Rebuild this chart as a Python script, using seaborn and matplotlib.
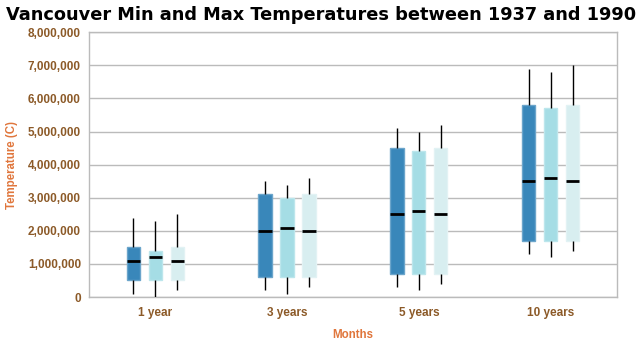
import numpy as np
import pandas as pd
import matplotlib
matplotlib.use("Agg")
import matplotlib.pyplot as plt
import matplotlib.colors as mcolors
from matplotlib.ticker import FuncFormatter
import seaborn as sns

categories = ["1 year", "3 years", "5 years", "10 years"]
series_names = ["Series 1", "Series 2", "Series 3"]
series_colors = ["#3987ba", "#a5dde5", "#d8eef0"]

# five-number summaries (whisker low, Q1, median, Q3, whisker high)
s1_low = [100000, 200000, 300000, 1300000]
s1_q1 = [500000, 600000, 700000, 1700000]
s1_med = [1100000, 2000000, 2500000, 3500000]
s1_q3 = [1500000, 3100000, 4500000, 5800000]
s1_high = [2400000, 3500000, 5100000, 6900000]

s2_low = [0, 100000, 200000, 1200000]
s2_q1 = [500000, 600000, 700000, 1700000]
s2_med = [1200000, 2100000, 2600000, 3600000]
s2_q3 = [1400000, 3000000, 4400000, 5700000]
s2_high = [2300000, 3400000, 5000000, 6800000]

s3_low = [200000, 300000, 400000, 1400000]
s3_q1 = [500000, 600000, 700000, 1700000]
s3_med = [1100000, 2000000, 2500000, 3500000]
s3_q3 = [1500000, 3100000, 4500000, 5800000]
s3_high = [2500000, 3600000, 5200000, 7000000]

y_ticks = [0, 1000000, 2000000, 3000000, 4000000, 5000000, 6000000, 7000000, 8000000]

summaries = {
    "Series 1": [s1_low, s1_q1, s1_med, s1_q3, s1_high],
    "Series 2": [s2_low, s2_q1, s2_med, s2_q3, s2_high],
    "Series 3": [s3_low, s3_q1, s3_med, s3_q3, s3_high],
}

rows = []
for name in series_names:
    stats = summaries[name]
    for ci, cat in enumerate(categories):
        for stat in stats:
            rows.append({"category": cat, "series": name, "value": stat[ci]})
df = pd.DataFrame(rows)

sns.set_theme(style="white")

tick_color = "#8c5a28"
label_color = "#e0763c"
grid_color = "#bbbbbb"

fig = plt.figure(figsize=(6.42, 3.47), dpi=100)
ax = fig.add_axes([0.139, 0.144, 0.8216, 0.763])

sns.boxplot(
    data=df, x="category", y="value", hue="series",
    order=categories, hue_order=series_names,
    palette=series_colors, saturation=1,
    whis=(0, 100), width=0.5, gap=0.4,
    showcaps=False, linecolor="black", linewidth=1,
    medianprops={"color": "black", "linewidth": 2},
    whiskerprops={"color": "black", "linewidth": 1},
    legend=False, ax=ax, zorder=3,
)

for p in ax.patches:
    fc = np.array(mcolors.to_rgba(p.get_facecolor()))
    edge = fc.copy()
    edge[:3] = fc[:3] * 0.75 + 0.25
    p.set_edgecolor(edge)
    p.set_linewidth(1)

ax.set_ylim(0, 8000000)
ax.set_yticks(y_ticks)
ax.yaxis.set_major_formatter(FuncFormatter(lambda v, pos: f"{int(v):,}"))
ax.set_xlim(-0.5, len(categories) - 0.5)
ax.grid(axis="y", color=grid_color, linewidth=1, zorder=0)
ax.set_axisbelow(True)
for s in ax.spines.values():
    s.set_color(grid_color)
    s.set_linewidth(1)

ax.tick_params(axis="both", length=0, colors=tick_color)
ax.tick_params(axis="y", pad=6)
ax.tick_params(axis="x", pad=7)
for lab in ax.get_xticklabels() + ax.get_yticklabels():
    lab.set_fontfamily("Liberation Sans")
    lab.set_fontweight("bold")
    lab.set_fontsize(8.5)
    lab.set_color(tick_color)

ax.set_xlabel("Months", fontsize=8.3, fontweight="bold", color=label_color,
              fontfamily="Liberation Sans")
ax.set_ylabel("Temperature (C)", fontsize=8.3, fontweight="bold", color=label_color,
              fontfamily="Liberation Sans")
ax.xaxis.set_label_coords(0.5, -0.121)
ax.yaxis.set_label_coords(-0.1346, 0.5)

fig.text(0.5, 0.958, "Vancouver Min and Max Temperatures between 1937 and 1990",
         ha="center", va="center", fontsize=12.8, fontweight="bold",
         fontfamily="DejaVu Sans", color="black")

fig.savefig("out.png", dpi=100)
